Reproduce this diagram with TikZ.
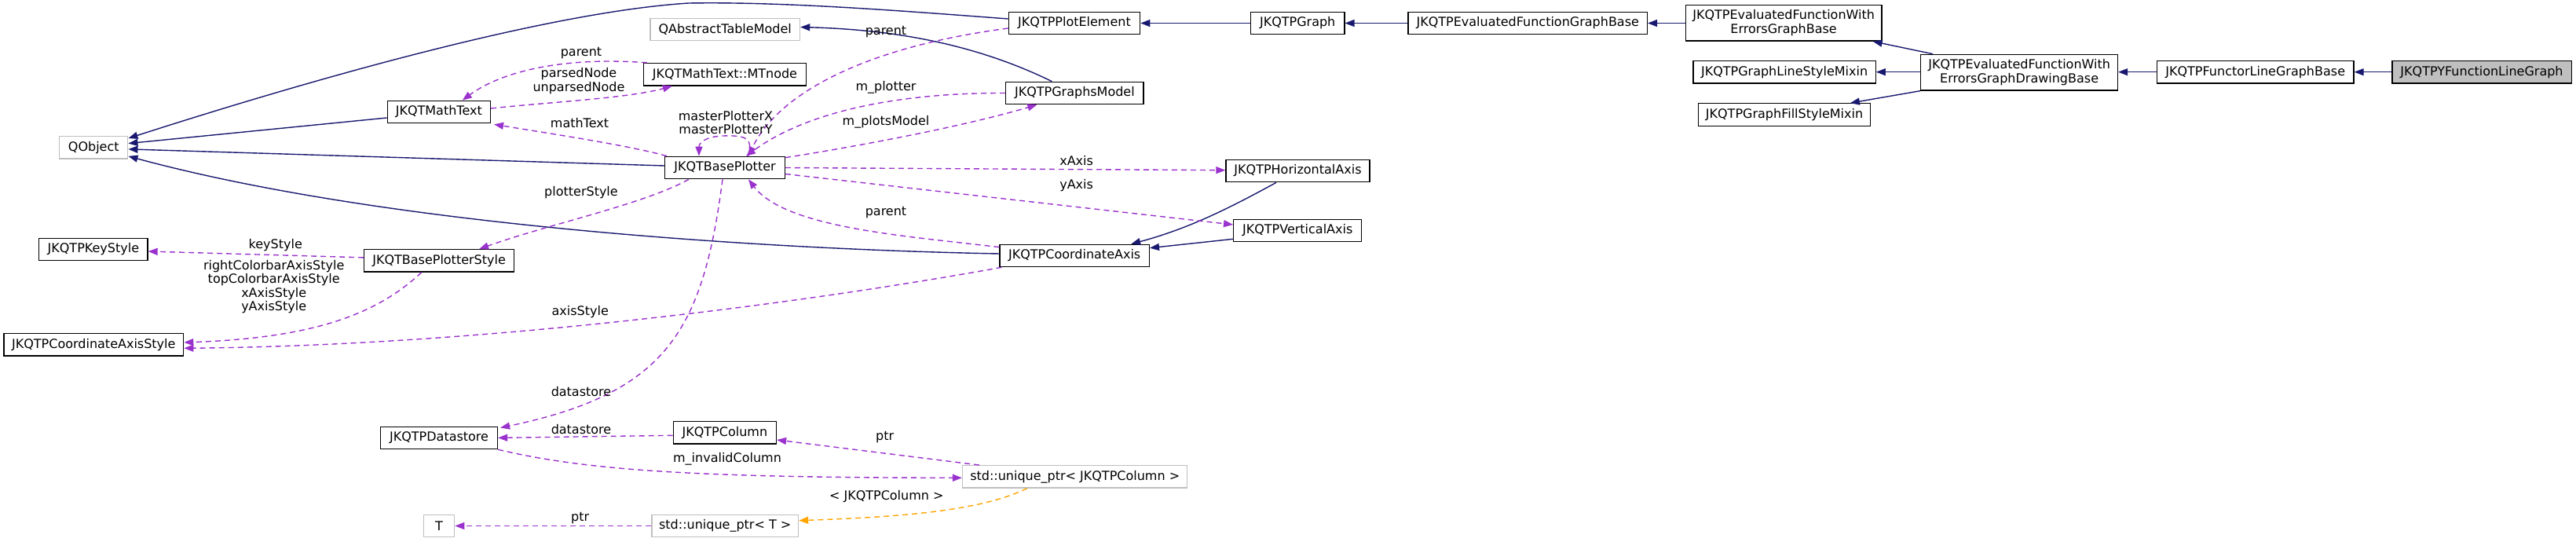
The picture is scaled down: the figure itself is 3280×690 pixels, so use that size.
\documentclass[tikz,border=0pt]{standalone}
\usepackage{fontspec}
\setmainfont{DejaVu Sans}
\usetikzlibrary{arrows.meta}
\definecolor{navyc}{HTML}{191970}
\definecolor{purp}{HTML}{9A32CD}
\definecolor{orng}{HTML}{FFA500}
\definecolor{grayb}{HTML}{BFBFBF}
\begin{document}
\begin{tikzpicture}[x=1pt,y=-1pt,
  font=\fontsize{16}{17.5}\selectfont,
  box/.style={draw=black, line width=1.3pt, minimum height=28.4pt, inner sep=0pt, text=black, align=center},
  gbox/.style={box, draw=grayb},
  dbox/.style={box, minimum height=45.7pt},
  inh/.style={navyc, line width=1.4pt, -{Triangle[length=12pt,width=9pt]}},
  col/.style={purp, line width=1.4pt, dash pattern=on 7pt off 5pt, -{Triangle[length=12pt,width=9pt]}},
  tmpl/.style={col, draw=orng, color=orng},
  lbl/.style={inner sep=0pt, align=center, text=black}]
\fill[white] (0,0) rectangle (3280,690);
\useasboundingbox (0,0) rectangle (3280,690);

% nodes
\node[gbox, minimum width=87pt] (qobj) at (119.3,187.9) {QObject};
\node[gbox, minimum width=190.7pt] (qatm) at (923.2,37.5) {QAbstractTableModel};
\node[box, minimum width=207pt] (mtnode) at (922.9,94.7) {JKQTMathText::MTnode};
\node[box, minimum width=131.2pt] (mathtext) at (558.8,142.5) {JKQTMathText};
\node[box, minimum width=152.6pt] (bplot) at (923,213.5) {JKQTBasePlotter};
\node[box, minimum width=138.2pt] (keystyle) at (118.9,317.5) {JKQTPKeyStyle};
\node[box, minimum width=190.8pt] (bpstyle) at (559.1,331.9) {JKQTBasePlotterStyle};
\node[box, minimum width=228.7pt] (caxstyle) at (119.3,438.8) {JKQTPCoordinateAxisStyle};
\node[box, minimum width=148.8pt] (datastore) at (559.1,557.4) {JKQTPDatastore};
\node[box, minimum width=131.1pt] (column) at (922.9,550.7) {JKQTPColumn};
\node[gbox, minimum width=39.2pt] (tnode) at (559.1,669.5) {T};
\node[gbox, minimum width=186.6pt] (uptrT) at (923.2,669.5) {std::unique\_ptr< T >};
\node[gbox, minimum width=286.2pt] (uptrCol) at (1368.7,606.9) {std::unique\_ptr< JKQTPColumn >};
\node[box, minimum width=167.4pt] (plotel) at (1368,29.5) {JKQTPPlotElement};
\node[box, minimum width=119.3pt] (graph) at (1652.2,29.5) {JKQTPGraph};
\node[box, minimum width=175.3pt] (gmodel) at (1368.4,118.5) {JKQTPGraphsModel};
\node[box, minimum width=183pt] (haxis) at (1652.5,217.5) {JKQTPHorizontalAxis};
\node[box, minimum width=163pt] (vaxis) at (1652.2,293.5) {JKQTPVerticalAxis};
\node[box, minimum width=190.3pt] (caxis) at (1368.2,325.5) {JKQTPCoordinateAxis};
\node[box, minimum width=304.5pt] (efgb) at (1945.2,29.5) {JKQTPEvaluatedFunctionGraphBase};
\node[dbox, minimum width=249.8pt] (efweb) at (2271.1,29.2) {JKQTPEvaluatedFunctionWith\\ErrorsGraphBase};
\node[box, minimum width=232.2pt] (lsmixin) at (2272.1,91.7) {JKQTPGraphLineStyleMixin};
\node[box, minimum width=218.5pt] (fsmixin) at (2272,146) {JKQTPGraphFillStyleMixin};
\node[dbox, minimum width=250.8pt] (efwedb) at (2571.1,92.2) {JKQTPEvaluatedFunctionWith\\ErrorsGraphDrawingBase};
\node[box, minimum width=250.7pt] (flgb) at (2871.7,91.7) {JKQTPFunctorLineGraphBase};
\node[box, minimum width=228.3pt, fill=grayb] (yflg) at (3160,91.7) {JKQTPYFunctionLineGraph};

% inheritance edges
\draw[inh] ([yshift=5.5]plotel.west) .. controls (1150,14) and (1000,2) .. (877,4)
  .. controls (700,15) and (400,100) .. ([yshift=-3]qobj.north east);
\draw[inh] ([yshift=-7.5]mathtext.west) -- ([yshift=5.3]qobj.east);
\draw[inh] ([yshift=2.5]bplot.west) -- ([yshift=-2]qobj.east);
\draw[inh] ([yshift=2.5]caxis.west) .. controls (1000,318) and (500,290) .. ([yshift=-11]qobj.east);
\draw[inh] (graph.west) -- (plotel.east);
\draw[inh] (efgb.west) -- (graph.east);
\draw[inh] (efweb.west |- efgb.west) -- (efgb.east);
\draw[inh] ([xshift=16]efwedb.north west) -- ([xshift=-12]efweb.south east);
\draw[inh] (efwedb.west |- lsmixin.east) -- (lsmixin.east);
\draw[inh] (efwedb.south west) -- ([xshift=-26]fsmixin.north east);
\draw[inh] (flgb.west) -- (flgb.west -| efwedb.east);
\draw[inh] (yflg.west) -- (flgb.east);
\draw[inh] ([xshift=-29]gmodel.north) .. controls (1250,60) and (1150,38) .. ([yshift=3]qatm.east);
\draw[inh] ([xshift=-27.5]haxis.south) .. controls (1560,268) and (1510,292) .. ([xshift=72]caxis.north);
\draw[inh] ([yshift=-10.8]vaxis.west) -- ([yshift=9.8]caxis.east);

% collaboration edges
\draw[col] ([xshift=5]mtnode.north west) .. controls (720,72) and (640,90) .. ([xshift=30]mathtext.north);
\draw[col] ([yshift=4.5]mathtext.east) .. controls (700,130) and (800,125) .. ([xshift=-67]mtnode.south);
\draw[col] ([xshift=3]bplot.north west) .. controls (800,185) and (700,170) .. ([xshift=4,yshift=-1]mathtext.south east);
\draw[col] ([xshift=29]bplot.north) .. controls (960,176) and (950,172) .. (920,173)
  .. controls (898,174) and (890,182) .. ([xshift=-33]bplot.north);
\draw[col] ([yshift=-6.5]plotel.west) .. controls (1100,60) and (990,120) .. ([xshift=30]bplot.north);
\draw[col] (gmodel.west) .. controls (1150,118) and (1030,140) .. ([xshift=27]bplot.north);
\draw[col] ([yshift=-2]bplot.north east) .. controls (1100,185) and (1230,160) .. ([xshift=-48]gmodel.south);
\draw[col] (bplot.east) -- ([yshift=0.8]haxis.west);
\draw[col] ([yshift=-8]bplot.east) -- ([yshift=7.5]vaxis.west);
\draw[col] ([yshift=-4]caxis.north west) .. controls (1150,300) and (1000,290) .. ([xshift=30]bplot.south);
\draw[col] ([xshift=-46]bplot.south) .. controls (820,260) and (700,285) .. ([xshift=51]bpstyle.north);
\draw[col] ([yshift=4]bpstyle.west) -- ([yshift=-2.5]keystyle.east);
\draw[col] ([xshift=-22.4]bpstyle.south) .. controls (480,400) and (400,430) .. ([yshift=2.8]caxstyle.east);
\draw[col] ([xshift=3]caxis.south west) .. controls (1000,390) and (600,440) .. ([yshift=-4.5]caxstyle.east);
\draw[col] ([xshift=-3]bplot.south) .. controls (895,420) and (850,500) .. ([xshift=3,yshift=-2]datastore.north east);
\draw[col] ([yshift=-3.6]column.west) -- (datastore.east);
\draw[col] (datastore.south east) .. controls (750,600) and (900,608) .. ([yshift=-1.4]uptrCol.west);
\draw[col] ([xshift=22]uptrCol.north west) -- ([yshift=-9.3]column.east);
\draw[tmpl] ([xshift=-61]uptrCol.south) .. controls (1250,650) and (1150,658) .. ([yshift=6.8]uptrT.east);
\draw[col] (uptrT.west) -- (tnode.east);

% labels
\node[lbl] (lparent1) at (740,68) {parent};
\node[lbl] (lparsed) at (737,103) {parsedNode\\unparsedNode};
\node[lbl] (lmath) at (738,157) {mathText};
\node[lbl] (lmaster) at (924,156) {masterPlotterX\\masterPlotterY};
\node[lbl] (lparent2) at (1128,40.7) {parent};
\node[lbl] (lmplotter) at (1128,111.7) {m\_plotter};
\node[lbl] (lmplots) at (1128,155.7) {m\_plotsModel};
\node[lbl] (lx) at (1370.6,204.3) {xAxis};
\node[lbl] (ly) at (1370.6,235.7) {yAxis};
\node[lbl] (lparent3) at (1128,271) {parent};
\node[lbl] (lpstyle) at (740,245) {plotterStyle};
\node[lbl] (lkey) at (350.8,311.7) {keyStyle};
\node[lbl] (laxstyles) at (348.7,365.3) {rightColorbarAxisStyle\\topColorbarAxisStyle\\xAxisStyle\\yAxisStyle};
\node[lbl] (laxis) at (738.7,396.7) {axisStyle};
\node[lbl] (lds1) at (740,499) {datastore};
\node[lbl] (lds2) at (740,546.7) {datastore};
\node[lbl] (linv) at (926,584.3) {m\_invalidColumn};
\node[lbl] (lptr1) at (1126.7,556.7) {ptr};
\node[lbl] (ltmpl) at (1128.8,632.3) {< JKQTPColumn >};
\node[lbl] (lptr2) at (738.7,660) {ptr};
\end{tikzpicture}
\end{document}
